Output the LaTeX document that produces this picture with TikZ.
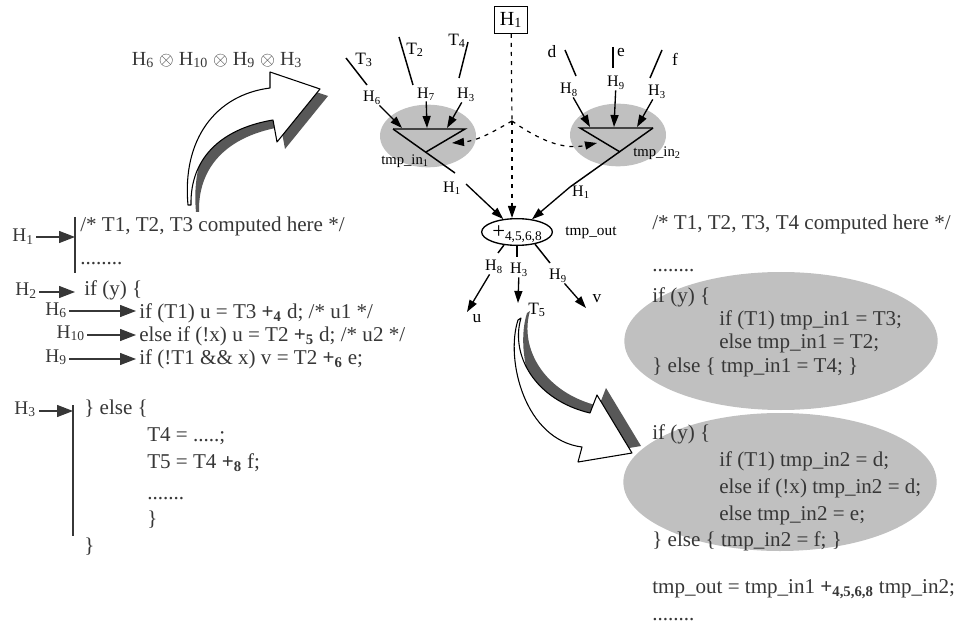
\documentclass[tikz,border=0pt]{standalone}
\usepackage{fontspec}
\setmainfont{Liberation Serif}
\usetikzlibrary{arrows.meta, shapes.geometric}

\definecolor{blobgray}{RGB}{192,192,192}
\definecolor{shadowgray}{RGB}{88,88,88}
\definecolor{codegray}{RGB}{55,55,55}

\newcommand{\Hsub}[1]{H\textsubscript{#1}}
\newcommand{\Tsub}[1]{T\textsubscript{#1}}
\newcommand{\opsub}[1]{\textbf{+\textsubscript{#1}}}

\begin{document}
\begin{tikzpicture}[
        x=0.75pt, y=-0.75pt,
        >={Triangle[length=9pt,width=6pt]},
        wire/.style={line width=1.1pt},
        feed/.style={line width=1pt, ->},
        sel/.style={line width=0.9pt, dash pattern=on 3pt off 3.8pt, ->},
        blob/.style={ellipse, fill=blobgray, inner sep=0pt},
        tlbl/.style={font=\fontsize{13}{13}\selectfont, inner sep=0.5pt},
        hlbl/.style={font=\fontsize{12}{12}\selectfont, inner sep=0.5pt},
        minilbl/.style={font=\fontsize{11}{11}\selectfont, inner sep=0pt},
        code/.style={anchor=base west, inner sep=0pt, text=codegray, font=\fontsize{15.8}{18}\selectfont},
        chl/.style={anchor=base east, inner sep=0pt, text=codegray, font=\fontsize{14.5}{15}\selectfont},
        carr/.style={draw=codegray, line width=1pt, -{Triangle[length=12pt,width=9pt]}},
        cbar/.style={draw=codegray, line width=1pt},
        bigarrow/.style={draw=black, line width=0.8pt, fill=white, line join=round}
    ]
    \useasboundingbox (0,0) rectangle (969,634);

    % grey regions
    \node[blob, minimum width=72pt, minimum height=47pt] (inL) at (428,136) {};
    \node[blob, minimum width=72pt, minimum height=47pt] (inR) at (618,135) {};
    \node[blob, minimum width=235pt, minimum height=103.5pt] (reg1) at (781,341) {};
    \node[blob, minimum width=235pt, minimum height=103.5pt] (reg2) at (780,482) {};

    % left multiplexer
    \coordinate (mlA) at (393,129);
    \coordinate (mlB) at (465,129);
    \coordinate (mlX) at (426,152);
    \coordinate (mlO) at (455,173);
    \coordinate (mlP) at (466,184);
    \draw[wire] (mlA) -- (mlB) -- (mlX);
    \draw[wire] (mlA) -- (mlO);
    \node[minilbl] (tinL) at (405,161) {tmp\_in\textsubscript{1}};

    % right multiplexer
    \coordinate (mrA) at (580,128);
    \coordinate (mrB) at (653,128);
    \coordinate (mrX) at (620,152);
    \coordinate (mrO) at (570,187);
    \draw[wire] (mrB) -- (mrA) -- (mrX);
    \draw[wire] (mrB) -- (mrO);
    \node[minilbl] (tinR) at (657,153) {tmp\_in\textsubscript{2}};

    % inputs of the left multiplexer
    \node[tlbl] (t3) at (364,60) {\Tsub{3}};
    \node[tlbl] (t2) at (415,50) {\Tsub{2}};
    \node[tlbl] (t4) at (457,41) {\Tsub{4}};
    \node[hlbl] (h6) at (372,98) {\Hsub{6}};
    \node[hlbl] (h7) at (426,94) {\Hsub{7}};
    \node[hlbl] (h3a) at (466,95) {\Hsub{3}};
    \draw[wire] (346,58) -- (367,85);
    \draw[wire] (399,37) -- (413,85);
    \draw[wire] (468,42) -- (459,78);
    \draw[feed] (h6) -- (402,128);
    \draw[feed] (h7) -- (427,128);
    \draw[feed] (h3a) -- (447,128);

    % inputs of the right multiplexer
    \node[tlbl] (d) at (552,52) {d};
    \node[tlbl] (e) at (621,53) {e};
    \node[tlbl] (f) at (675,59) {f};
    \node[hlbl] (h8) at (569,90) {\Hsub{8}};
    \node[hlbl] (h9) at (616,83) {\Hsub{9}};
    \node[hlbl] (h3b) at (657,92) {\Hsub{3}};
    \draw[wire] (565,50) -- (576,76);
    \draw[wire] (613,47) -- (613,68);
    \draw[wire] (662,50) -- (650,78);
    \draw[feed] (h8) -- (590,127);
    \draw[feed] (h9) -- (614,127);
    \draw[feed] (h3b) -- (637,127);

    % select signal H1
    \node[draw, line width=0.8pt, font=\fontsize{15}{15}\selectfont, minimum width=25pt, minimum height=20pt, inner sep=1pt] (h1box) at (511,20) {\Hsub{1}};
    \coordinate (branch) at (512,121);
    \coordinate (selL) at (452,143);
    \coordinate (selR) at (597,143);
    \draw[sel, -] (h1box) -- (branch);
    \draw[sel] (branch) to[out=210, in=5] (selL);
    \draw[sel] (branch) to[out=-35, in=192] (selR);

    % merging operation
    \node[ellipse, draw, line width=1pt, minimum width=53pt, minimum height=20pt, inner sep=0pt,
          text height=7pt, text depth=3pt] (plus) at (517,232)
        {\raisebox{-3pt}{\fontsize{17}{17}\selectfont +}\raisebox{-4.5pt}{\fontsize{10}{10}\selectfont 4,5,6,8}};
    \node[minilbl, font=\fontsize{11.5}{12}\selectfont] (tout) at (591,233) {tmp\_out};
    \node[hlbl] (h1l) at (452,188) {\Hsub{1}};
    \node[hlbl] (h1r) at (581,192) {\Hsub{1}};
    \draw[feed] (mlP) -- (plus);
    \draw[feed] (mrO) -- (plus);
    \draw[sel] (branch) -- (branch |- plus.north);

    % outputs of the merging operation
    \node[hlbl] (o8) at (494,267) {\Hsub{8}};
    \node[hlbl] (o3) at (519,270) {\Hsub{3}};
    \node[hlbl] (o9) at (558,276) {\Hsub{9}};
    \node[tlbl] (u) at (477,319) {u};
    \node[tlbl] (t5) at (537,310) {\Tsub{5}};
    \node[tlbl] (v) at (597,299) {v};
    \draw[wire] (plus.225) -- (498,253);
    \draw[wire] (plus.south) -- ++(0,11);
    \draw[wire] (plus.-34) -- (550,263);
    \draw[feed] (o8) -- (467,312);
    \draw[feed] (o3) -- (518,303);
    \draw[feed] (o9) -- (586,308);

    % big curved arrow, top left
    \fill[shadowgray, shift={(8,7)}] (188,205) .. controls (182,140) and (215,95) .. (270,88) -- (270,72) -- (320,89)
        -- (277,142) -- (273,120) .. controls (225,128) and (190,155) .. (191,205) -- cycle;
    \filldraw[bigarrow] (188,205) .. controls (182,140) and (215,95) .. (270,88) -- (270,72) -- (320,89)
        -- (277,142) -- (273,120) .. controls (225,128) and (190,155) .. (191,205) -- cycle;
    \node[font=\fontsize{15}{15}\selectfont, text=codegray, inner sep=0pt] (prod) at (217,60)
        {\Hsub{6} $\otimes$ \Hsub{10} $\otimes$ \Hsub{9} $\otimes$ \Hsub{3}};

    % big curved arrow, bottom
    \fill[shadowgray, shift={(9,-7)}] (518,320) .. controls (505,360) and (525,440) .. (582,447) -- (578,462) -- (632,453)
        -- (597,395) -- (590,413) .. controls (535,400) and (510,355) .. (521,318) -- cycle;
    \filldraw[bigarrow] (518,320) .. controls (505,360) and (525,440) .. (582,447) -- (578,462) -- (632,453)
        -- (597,395) -- (590,413) .. controls (535,400) and (510,355) .. (521,318) -- cycle;

    % original code
    \node[code] (c1) at (80,232) {/* T1, T2, T3 computed here */};
    \node[code] (c2) at (80,265) {........};
    \node[code] (c3) at (84,295) {if (y) \{};
    \node[code] (c4) at (139,318) {if (T1) u = T3 \opsub{4} d; /* u1 */};
    \node[code] (c5) at (139,341) {else if (!x) u = T2 \opsub{5} d; /* u2 */};
    \node[code] (c6) at (139,364) {if (!T1 \&\& x) v = T2 \opsub{6} e;};
    \node[code] (c7) at (84,414) {\} else \{};
    \node[code] (c8) at (147,441) {T4 = .....;};
    \node[code] (c9) at (147,468) {T5 = T4 \opsub{8} f;};
    \node[code] (c10) at (147,499) {.......};
    \node[code] (c11) at (147,525) {\}};
    \node[code] (c12) at (84,552) {\}};

    % path conditions of the original code
    \coordinate (bar1) at (75,217);
    \coordinate (bar3) at (73,405);
    \draw[cbar] (bar1) -- (75,273);
    \draw[cbar] (bar3) -- (73,536);
    \node[chl] (ch1) at (34,242) {\Hsub{1}};
    \node[chl] (ch2) at (37,296) {\Hsub{2}};
    \node[chl] (ch6) at (67,315) {\Hsub{6}};
    \node[chl] (ch10) at (85,338) {\Hsub{10}};
    \node[chl] (ch9) at (67,362) {\Hsub{9}};
    \node[chl] (ch3) at (36,414) {\Hsub{3}};
    \draw[carr] (36,237) -- (bar1 |- 0,237);
    \draw[carr] (39,292) -- (bar1 |- 0,292);
    \draw[carr] (69,311) -- (136,311);
    \draw[carr] (87,335) -- (136,335);
    \draw[carr] (69,359) -- (136,359);
    \draw[carr] (39,411) -- (bar3 |- 0,411);

    % transformed code
    \node[code] (r1) at (652,230) {/* T1, T2, T3, T4 computed here */};
    \node[code] (r2) at (652,272) {........};
    \node[code] (r3) at (652,302) {if (y) \{};
    \node[code] (r4) at (719,325) {if (T1) tmp\_in1 = T3;};
    \node[code] (r5) at (719,348) {else tmp\_in1 = T2;};
    \node[code] (r6) at (652,372) {\} else \{ tmp\_in1 = T4; \}};
    \node[code] (r7) at (652,439) {if (y) \{};
    \node[code] (r8) at (719,466) {if (T1) tmp\_in2 = d;};
    \node[code] (r9) at (719,493) {else if (!x) tmp\_in2 = d;};
    \node[code] (r10) at (719,520) {else tmp\_in2 = e;};
    \node[code] (r11) at (652,546) {\} else \{ tmp\_in2 = f; \}};
    \node[code] (r12) at (652,593) {tmp\_out = tmp\_in1 \opsub{4,5,6,8} tmp\_in2;};
    \node[code] (r13) at (652,620) {........};

\end{tikzpicture}
\end{document}
